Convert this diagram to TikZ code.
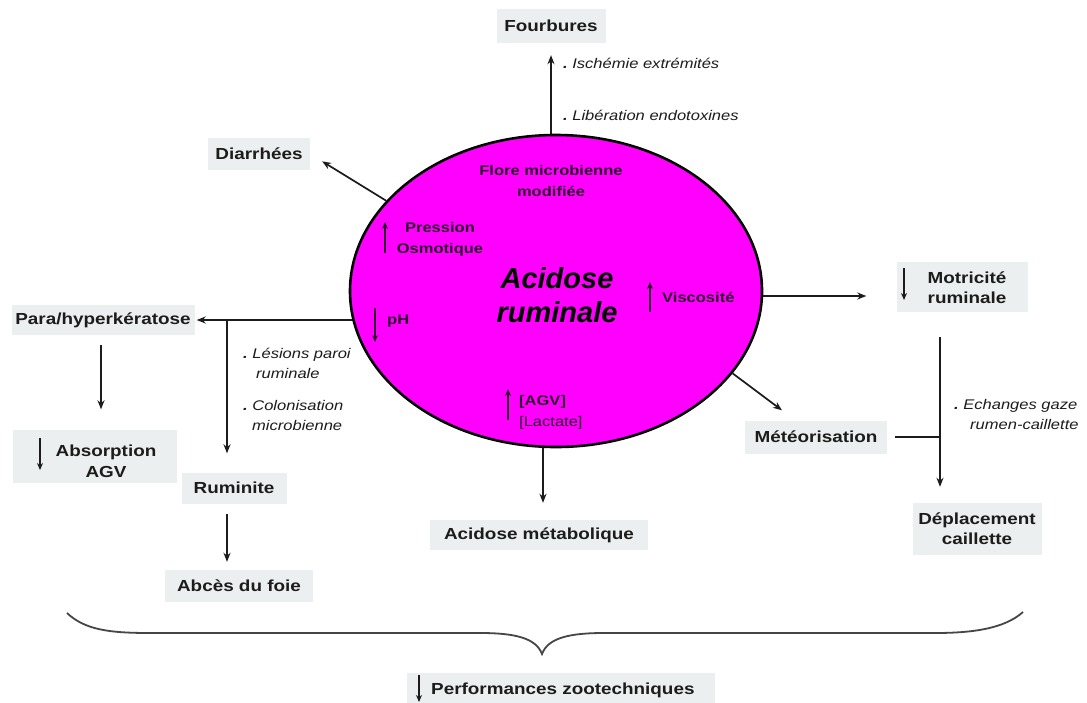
\documentclass[tikz,border=0pt]{standalone}
\usepackage{fontspec}
\setmainfont[FakeStretch=1.18]{Liberation Sans}
\newfontfamily\titlefont{Liberation Sans}
\usetikzlibrary{arrows.meta,shapes.geometric}
\pgfdeclarelayer{back}
\pgfdeclarelayer{bg}
\pgfsetlayers{back,bg,main}
\definecolor{boxgray}{RGB}{236,239,239}
\definecolor{txt}{RGB}{28,28,28}
\definecolor{intxt}{RGB}{45,10,45}
\definecolor{mag}{RGB}{255,0,255}
\definecolor{bracegray}{RGB}{70,70,70}
\tikzset{
  graybox/.style={fill=boxgray, text=txt, font=\bfseries\fontsize{16}{20}\selectfont, align=center, inner sep=0pt},
  inlabel/.style={text=intxt, font=\bfseries\fontsize{14}{21}\selectfont, inner sep=0pt},
  note/.style={text=txt, font=\itshape\fontsize{14}{20}\selectfont, align=left, inner sep=0pt, anchor=west},
  arr/.style={draw=txt, line width=1.7pt, -{Stealth[length=9pt,width=7pt]}},
  inarr/.style={draw=intxt, line width=1.6pt, -{Stealth[length=7pt,width=6pt]}},
  plain/.style={draw=txt, line width=1.7pt}
}
\begin{document}
\begin{tikzpicture}[x=1pt,y=-1pt]
\useasboundingbox (0,0) rectangle (1087,702);
\begin{pgfonlayer}{back}
\fill[white] (0,0) rectangle (1087,702);
\end{pgfonlayer}

% central ellipse
\node[ellipse, draw=black, line width=2.6pt, fill=mag, minimum width=412pt, minimum height=312pt, inner sep=0pt] (acid) at (556,291) {};

% boxes
\node[graybox, minimum width=109pt, minimum height=34pt] (four) at (551,26) {Fourbures};
\node[graybox, minimum width=102pt, minimum height=32pt] (diar) at (259,154) {Diarrhées};
\node[graybox, minimum width=183pt, minimum height=30pt] (para) at (103,320) {Para/hyperkératose};
\node[graybox, minimum width=164pt, minimum height=53pt] (abs) at (95,456) {};
\node[text=txt, font=\bfseries\fontsize{16}{21}\selectfont, align=center, inner sep=0pt] (abst) at (106,461) {Absorption\\AGV};
\node[graybox, minimum width=105pt, minimum height=31pt] (rumi) at (234,488) {Ruminite};
\node[graybox, minimum width=148pt, minimum height=32pt] (abces) at (239,586) {Abcès du foie};
\node[graybox, minimum width=131pt, minimum height=50pt] (motr) at (962,287) {};
\node[text=txt, font=\bfseries\fontsize{16}{20}\selectfont, align=center, inner sep=0pt] (motrt) at (967,288) {Motricité\\ruminale};
\node[graybox, minimum width=142pt, minimum height=33pt] (meteo) at (816,437) {Météorisation};
\node[graybox, minimum width=129pt, minimum height=52pt] (depl) at (977,529) {Déplacement\\caillette};
\node[graybox, minimum width=218pt, minimum height=30pt] (acmet) at (539,535) {Acidose métabolique};
\node[fill=boxgray, minimum width=308pt, minimum height=35pt, inner sep=0pt] (perf) at (561,690) {};
\node[text=txt, font=\bfseries\fontsize{16}{20}\selectfont, anchor=west, inner sep=0pt] (perft) at (431,690) {Performances zootechniques};

% coordinates
\coordinate (br) at (227,320);
\coordinate (vx) at (940,0);

% connectors (under the ellipse)
\begin{pgfonlayer}{bg}
\draw[arr, shorten >=12pt] (acid.center -| four.south) -- (four.south);
\draw[arr, shorten >=2pt] (para.east -| acid.center) -- (para.east);
\draw[arr, shorten >=17pt] ([xshift=-13pt]acid.center) -- ([xshift=4pt]acmet.north);
\draw[arr, shorten >=30pt] ([yshift=-5pt]acid.center) -- ([yshift=-9pt]motr.west);
\end{pgfonlayer}

\draw[arr, shorten >=14pt] (acid.152.8) -- (diar.east);
\draw[arr] (acid.-25) -- ([xshift=-34pt,yshift=10pt]meteo.north);
\draw[arr, shorten >=19pt] (br) -- (br |- rumi.north);
\draw[arr, shorten <=10pt, shorten >=20pt] ([xshift=-2pt]para.south) -- ([xshift=6pt]abs.north);
\draw[arr, shorten <=10pt, shorten >=8pt] (rumi.south -| br) -- (abces.north -| br);
\draw[arr, shorten <=25pt, shorten >=16pt] (motr.south -| vx) -- (depl.north -| vx);
\draw[plain, shorten <=8pt] (meteo.east) -- (meteo.east -| vx);

% small arrows in boxes
\draw[arr, -{Stealth[length=7pt,width=6pt]}] ([xshift=-55pt,yshift=18pt]abs.center) -- ([xshift=-55pt,yshift=-14pt]abs.center);
\draw[arr, -{Stealth[length=7pt,width=6pt]}] ([xshift=-58pt,yshift=19pt]motr.center) -- ([xshift=-58pt,yshift=-13pt]motr.center);
\draw[arr, -{Stealth[length=7pt,width=6pt]}] ([xshift=-142pt,yshift=15pt]perf.center) -- ([xshift=-142pt,yshift=-12pt]perf.center);

% notes
\node[note] (n1) at (563,63) {\textbf{.}\ Ischémie extrémités};
\node[note] (n2) at (563,115) {\textbf{.}\ Libération endotoxines};
\node[note] (n3) at (243,363) {\textbf{.}\ Lésions paroi\\\hspace{13pt}ruminale};
\node[note] (n4) at (243,415) {\textbf{.}\ Colonisation\\\hspace{9pt}microbienne};
\node[note] (n5) at (954,414) {\textbf{.}\ Echanges gaze\\\hspace{16pt}rumen-caillette};

% inner labels
\node[inlabel, align=center] (flore) at (551,181) {Flore microbienne\\modifiée};
\node[inlabel, align=center] (press) at (440,239) {Pression\\Osmotique};
\draw[inarr] (385,253) -- (385,222);
\node[inlabel, anchor=west] (ph) at (387,321) {pH};
\draw[inarr] (375,308) -- (375,342);
\node[inlabel, anchor=west] (visc) at (662,297) {Viscosité};
\draw[inarr] (650,312) -- (650,282);
\node[inlabel, anchor=west] (agv) at (519,402) {[AGV]};
\node[text=intxt, font=\fontsize{14}{20}\selectfont, anchor=west, inner sep=0pt] (lact) at (519,423) {[Lactate]};
\draw[inarr] (508,420) -- (508,389);
\node[text=black, font=\titlefont\bfseries\itshape\fontsize{29}{34}\selectfont, align=center, inner sep=0pt] (title) at (557,295) {Acidose\\ruminale};

% brace
\coordinate (bl) at (67,613);
\coordinate (bt) at (542,654);
\coordinate (bri) at (1023,612);
\draw[draw=bracegray, line width=1.8pt] (bl) .. controls (85,630) and (110,633) .. (150,633) -- (480,633) .. controls (515,633) and (536,638) .. (bt) .. controls (548,638) and (569,633) .. (604,633) -- (935,633) .. controls (975,633) and (1005,628) .. (bri);
\end{tikzpicture}
\end{document}
